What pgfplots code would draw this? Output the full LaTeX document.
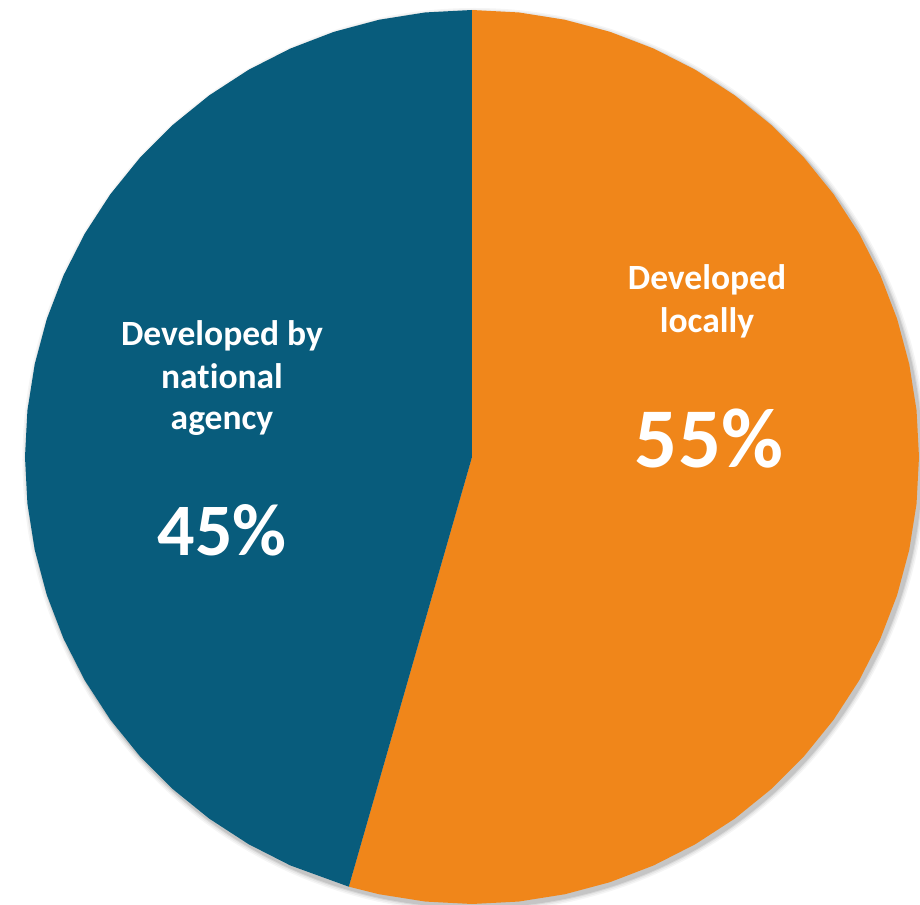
\documentclass[border=0pt]{standalone}
\usepackage{pgfplots}
\pgfplotsset{compat=1.18}
\usepgfplotslibrary{polar}
\usepackage{fontspec}
\setmainfont{Carlito}
\definecolor{pieorange}{HTML}{F0861A}
\definecolor{pieblue}{HTML}{085C7C}
\begin{document}
\begin{tikzpicture}[x=1pt,y=1pt]
\useasboundingbox (-472,-447) rectangle (448,457);
% soft shadow
\foreach \r/\o in {452/0.04,450.5/0.05,449/0.07,448/0.09}{
  \fill[black,opacity=\o] (2.5,-3) circle (\r);
}
\begin{polaraxis}[
  at={(0,0)}, anchor=center,
  scale only axis, width=894pt, height=894pt,
  hide axis, ymin=0, ymax=1,
  clip=false,
]
% Developed locally (clockwise from top)
\addplot[draw=none, fill=pieorange] coordinates {
 (0,0) (90,1) (84,1) (78,1) (72,1) (66,1) (60,1) (54,1) (48,1) (42,1) (36,1)
 (30,1) (24,1) (18,1) (12,1) (6,1) (0,1) (-6,1) (-12,1) (-18,1) (-24,1)
 (-30,1) (-36,1) (-42,1) (-48,1) (-54,1) (-60,1) (-66,1) (-72,1) (-78,1)
 (-84,1) (-90,1) (-96,1) (-102,1) (-106,1) (0,0)
} \closedcycle;
% Developed by national agency
\addplot[draw=none, fill=pieblue] coordinates {
 (0,0) (90,1) (96,1) (102,1) (108,1) (114,1) (120,1) (126,1) (132,1) (138,1)
 (144,1) (150,1) (156,1) (162,1) (168,1) (174,1) (180,1) (186,1) (192,1)
 (198,1) (204,1) (210,1) (216,1) (222,1) (228,1) (234,1) (240,1) (246,1)
 (254,1) (0,0)
} \closedcycle;
\end{polaraxis}
\begin{scope}[every node/.style={text=white, anchor=base, inner sep=0pt}]
\node[font=\fontsize{35.5}{42}\selectfont\bfseries] at (235,167) {Developed};
\node[font=\fontsize{35.5}{42}\selectfont\bfseries] at (235,124) {locally};
\node[font=\fontsize{85}{100}\selectfont\bfseries] at (237,-11) {55\%};
\node[font=\fontsize{35.5}{42}\selectfont\bfseries] at (-250,111) {Developed by};
\node[font=\fontsize{35.5}{42}\selectfont\bfseries] at (-250,68) {nat\kern0pt ional};
\node[font=\fontsize{35.5}{42}\selectfont\bfseries] at (-250,27) {agency};
\node[font=\fontsize{74}{90}\selectfont\bfseries] at (-250,-99) {45\%};
\end{scope}
\end{tikzpicture}
\end{document}
